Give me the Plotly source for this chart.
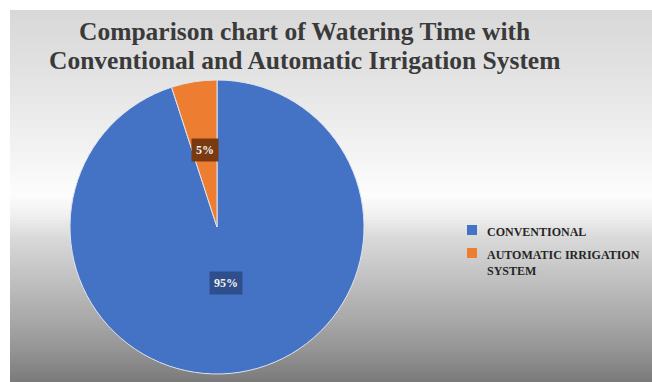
import math
import plotly.graph_objects as go

# ---- data ----
categories = ["CONVENTIONAL", "AUTOMATIC IRRIGATION SYSTEM"]
legend_labels = ["CONVENTIONAL", "AUTOMATIC IRRIGATION<br>SYSTEM"]
values = [95, 5]
colors = ["#4472C4", "#ED7D31"]
label_box_colors = ["#2E4E8C", "#7A3A10"]
title_lines = ["Comparison chart of Watering Time with",
               "Conventional and Automatic Irrigation System"]

W, H = 652, 382
cx, cy, r = 217, 227, 147

fig = go.Figure()

# background gradient (styling)
stops = [(10, 216), (60, 224), (120, 236), (170, 247), (195, 253), (215, 240),
         (240, 216), (280, 192), (320, 168), (350, 148), (382, 122)]
def gray_at(y):
    for (y0, g0), (y1, g1) in zip(stops[:-1], stops[1:]):
        if y0 <= y <= y1:
            t = (y - y0) / (y1 - y0)
            return g0 + (g1 - g0) * t
    return stops[-1][1]

shapes = []
step = 3
y = 10
while y < H:
    g = int(round(gray_at(y + step / 2)))
    shapes.append(dict(type="rect", xref="paper", yref="paper",
                       x0=10 / W, x1=1, y0=1 - min(y + step, H) / H, y1=1 - y / H,
                       fillcolor=f"rgb({g},{g},{g})", line=dict(width=0), layer="below"))
    y += step

fig.add_trace(go.Pie(
    labels=categories, values=values, sort=False, direction="clockwise", rotation=0,
    marker=dict(colors=colors, line=dict(color="#dde4f0", width=1)),
    textinfo="none", hoverinfo="label+percent", showlegend=False,
    domain=dict(x=[(cx - r) / W, (cx + r) / W], y=[1 - (cy + r) / H, 1 - (cy - r) / H]),
))

annotations = []
# percentage labels in boxes
total = sum(values)
cum = 0
radial = [0.386, 0.53]
for i, v in enumerate(values):
    mid = (cum + v / 2) / total
    cum += v
    th = 2 * math.pi * mid
    px = cx + radial[i] * r * math.sin(th)
    py = cy - radial[i] * r * math.cos(th)
    annotations.append(dict(
        x=px / W, y=1 - py / H, xref="paper", yref="paper",
        xanchor="center", yanchor="middle",
        text=f"{round(v / total * 100)}%", showarrow=False,
        font=dict(family="Liberation Serif", size=12, color="#f2f2f2", weight="bold"),
        bgcolor=label_box_colors[i], borderpad=4,
    ))

# title (two lines)
title_y = [31, 60]
for line, ty in zip(title_lines, title_y):
    annotations.append(dict(
        x=304 / W, y=1 - ty / H, xref="paper", yref="paper", xanchor="center", yanchor="middle",
        text=line, showarrow=False,
        font=dict(family="Liberation Serif", size=25.5, color="#3a3a3a", weight="bold"),
    ))

# custom legend
leg_y = [230, 253]
for i, lab in enumerate(legend_labels):
    shapes.append(dict(type="rect", xref="paper", yref="paper",
                       x0=467 / W, x1=477 / W, y0=1 - (leg_y[i] + 5) / H, y1=1 - (leg_y[i] - 5) / H,
                       fillcolor=colors[i], line=dict(width=0)))
    annotations.append(dict(
        x=485 / W, y=1 - (leg_y[i] - 7) / H, xref="paper", yref="paper",
        xanchor="left", yanchor="top", align="left",
        text=lab, showarrow=False,
        font=dict(family="Liberation Serif", size=12, color="#262626", weight="bold"),
    ))

fig.update_layout(
    width=W, height=H, margin=dict(l=0, r=0, t=0, b=0),
    paper_bgcolor="white", plot_bgcolor="white",
    shapes=shapes, annotations=annotations,
)

fig.write_html("out.html")
